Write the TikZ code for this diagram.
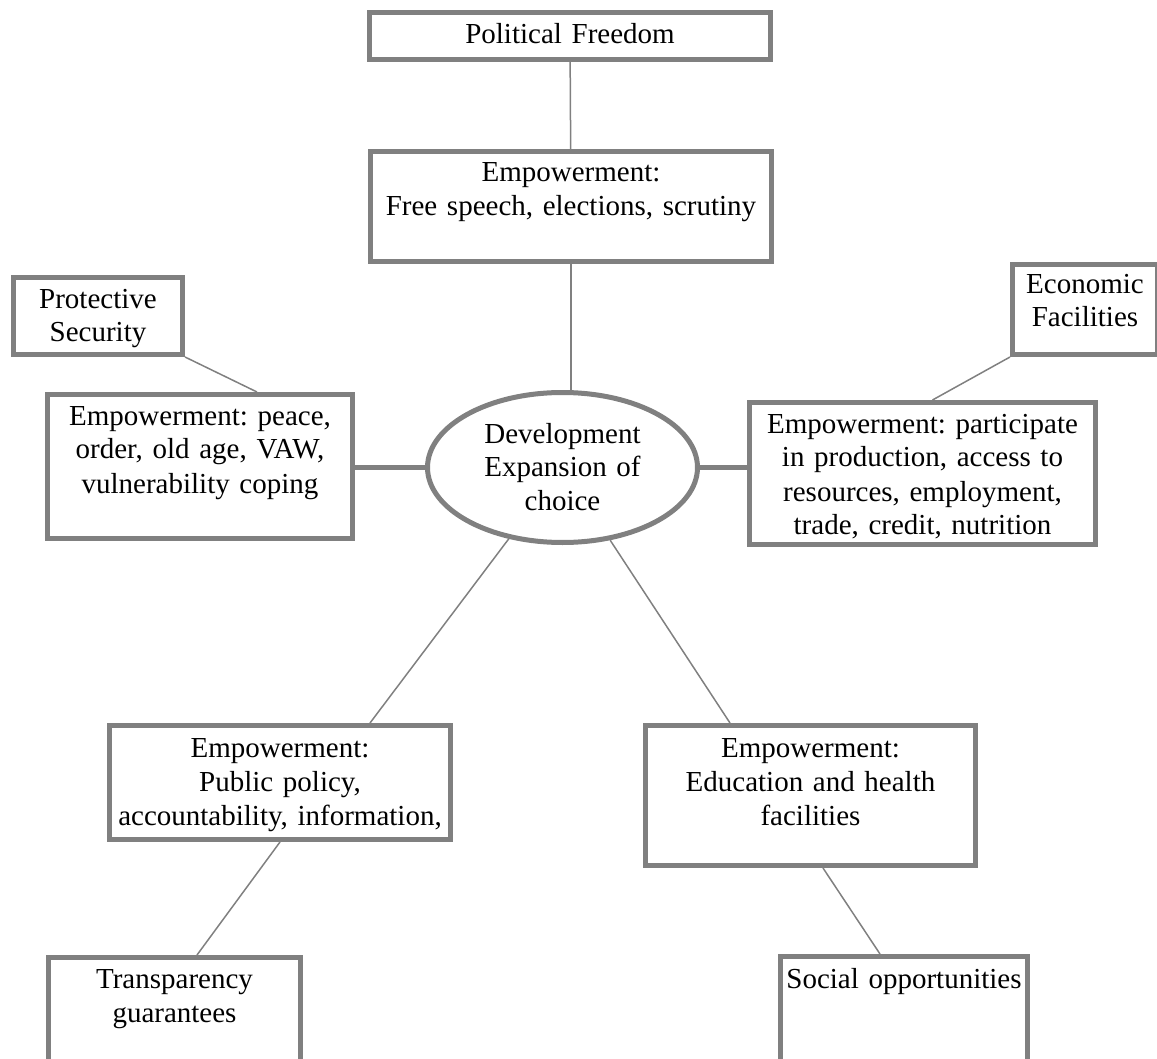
\documentclass[tikz,border=0pt]{standalone}
\usepackage{fontspec}
\setmainfont{Liberation Serif}
\frenchspacing
\tikzset{
    RA/.style ={rectangle, draw=gray, line width=2.5pt, inner sep=0pt, align=center, anchor=base,
                font=\fontsize{14.5}{17}\selectfont},
    EL/.style ={ellipse, draw=gray, line width=2.5pt, inner sep=0pt, align=center, anchor=base,
                font=\fontsize{14.5}{17}\selectfont},
    LN/.style ={draw=gray, line width=0.75pt},
    LT/.style ={draw=gray, line width=2.5pt}}
\usetikzlibrary{shapes.geometric}

\begin{document}
\begin{tikzpicture}[x=0.5pt,y=-0.5pt]
        \useasboundingbox (0,0) rectangle (1157,1059);
        \node[RA, text width=200.5pt, text height=15.75pt, text depth=7.75pt] (1) at (570,44) {Political Freedom};
        \node[RA, text width=200.5pt, text height=15.25pt, text depth=39.75pt] (2) at (571,182) {Empowerment:\\Free speech, elections, scrutiny};
        \node[RA, text width=84.5pt, text height=15.25pt, text depth=23.25pt] (3) at (98,308) {Protective\\Security};
        \node[RA, text width=152.5pt, text height=15.25pt, text depth=56.75pt] (4) at (200,425) {Empowerment: peace,\\order, old age, VAW,\\vulnerability coping};
        \node[EL, text width=90pt, minimum width=135pt, minimum height=75pt, text height=12pt, text depth=36.5pt] (5) at (562.5,443) {Development\\Expansion of\\choice};
        \node[RA, text width=173pt, text height=15.25pt, text depth=55.75pt] (6) at (922.5,433) {Empowerment: participate\\in production, access to\\resources, employment,\\trade, credit, nutrition};
        \node[RA, text width=72.5pt, text height=14.25pt, text depth=30.75pt] (7) at (1085,293) {Economic\\Facilities};
        \node[RA, text width=170.5pt, text height=15.75pt, text depth=41.25pt] (8) at (280,757) {Empowerment:\\Public policy,\\accountability, information,};
        \node[RA, text width=126pt, text height=15.25pt, text depth=56pt] (9) at (174.5,988) {Transparency\\guarantees};
        \node[RA, text width=165pt, text height=15.75pt, text depth=54.25pt] (10) at (810.5,757) {Empowerment:\\Education and health\\facilities};
        \node[RA, text width=123.5pt, text height=15.75pt, text depth=56pt] (11) at (904,988) {Social opportunities};
        % connectors
        \draw[LN] (1) -- (2);
        \draw[LN] (2) -- (2 |- 5.north);
        \draw[LN] (3.south east) -- ([xshift=28.5pt]4.north);
        \draw[LN] (7.south west) -- ([xshift=5pt]6.north);
        \draw[LT] (5.west) -- (5.west -| 4.east);
        \draw[LT] (5.east) -- (5.east -| 6.west);
        \draw[LN] (5) -- ([xshift=45pt]8.north);
        \draw[LN] (5) -- ([xshift=-40.25pt]10.north);
        \draw[LN] (8.south) -- ([xshift=11.25pt]9.north);
        \draw[LN] ([xshift=6.25pt]10.south) -- ([xshift=-12pt]11.north);
\end{tikzpicture}
\end{document}
